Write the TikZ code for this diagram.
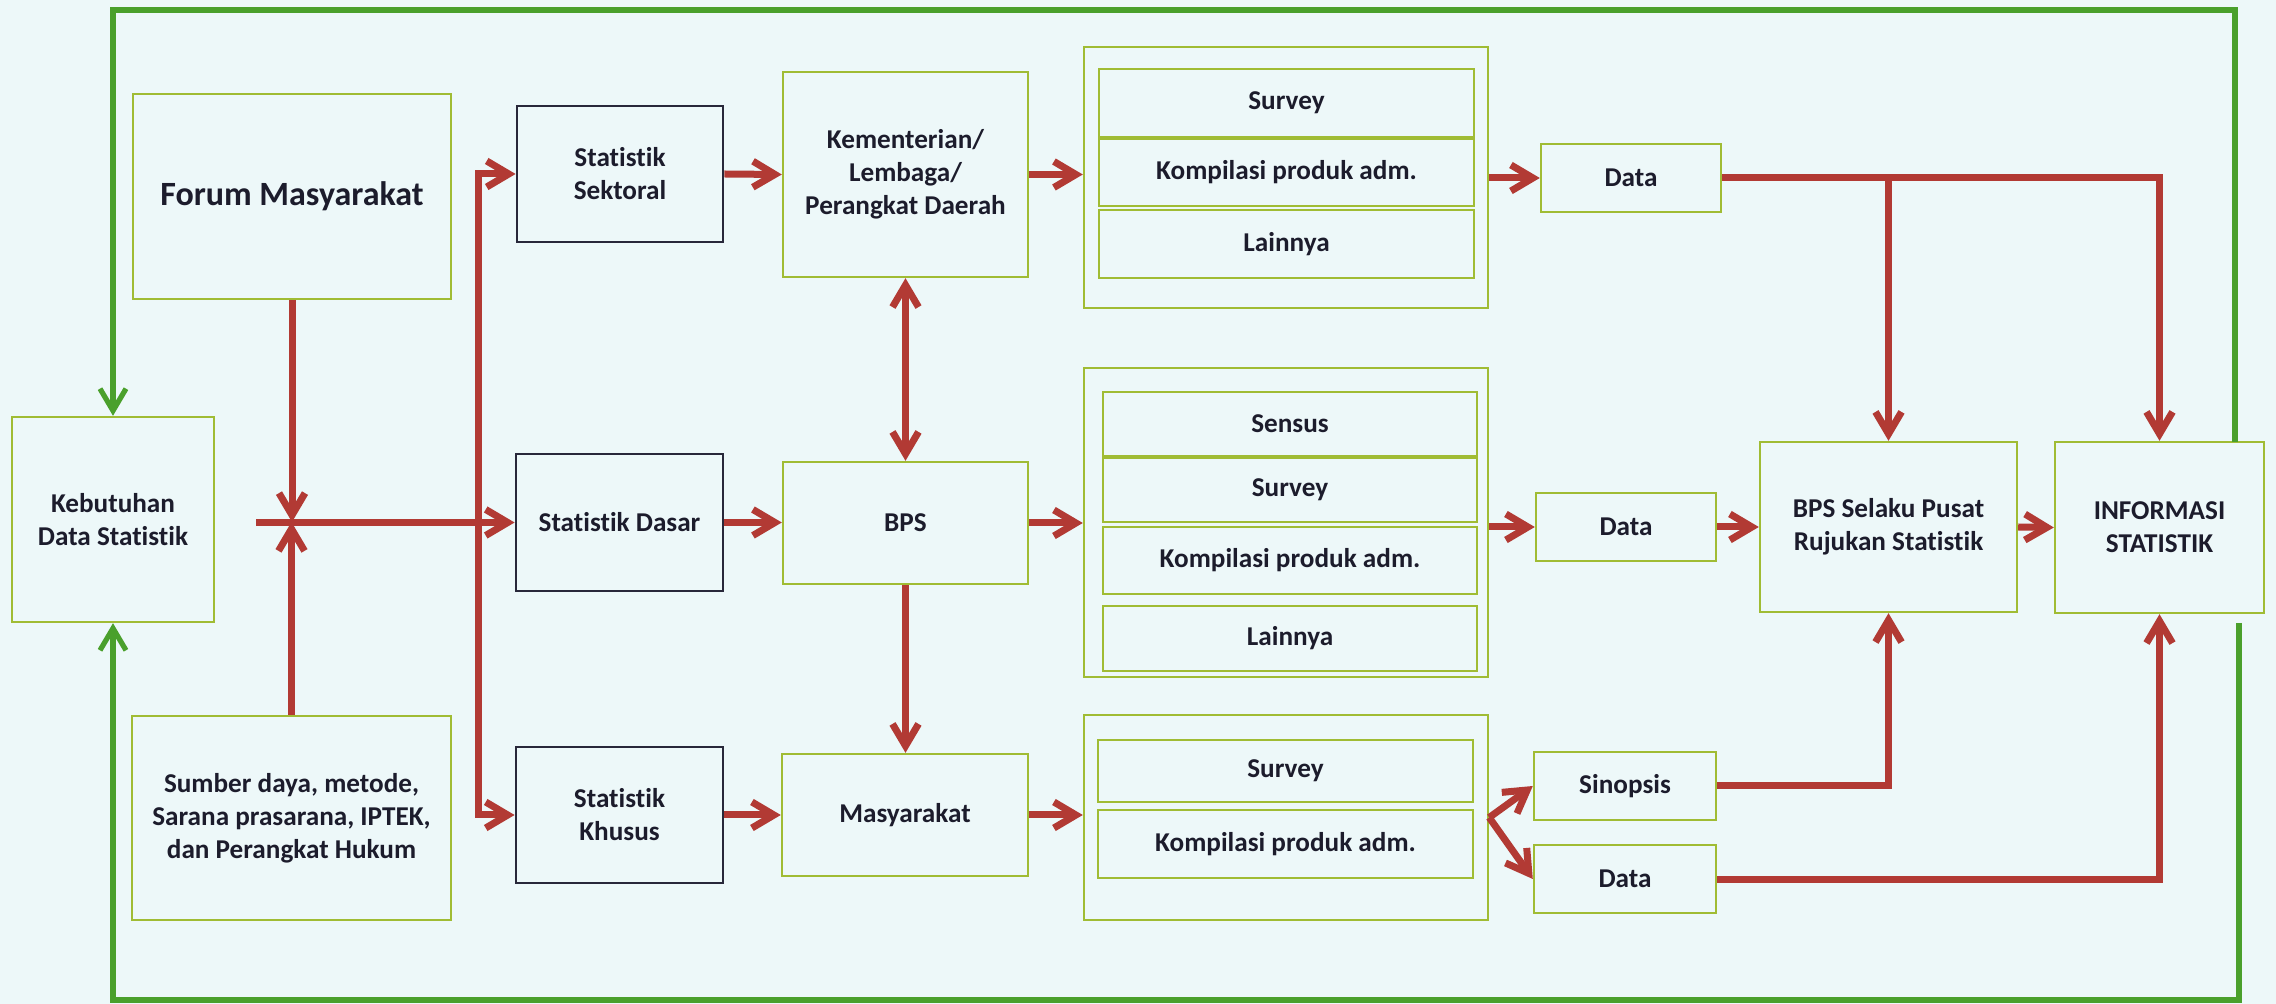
\documentclass[tikz,border=0pt]{standalone}
\usepackage{fontspec}
\setmainfont{Carlito}[Ligatures={NoCommon}]
\usetikzlibrary{arrows.meta}
\definecolor{bgc}{RGB}{237,248,249}
\definecolor{boxc}{RGB}{160,188,52}
\definecolor{darkc}{RGB}{40,40,58}
\definecolor{redc}{RGB}{178,58,52}
\definecolor{greenc}{RGB}{74,160,44}
\definecolor{txtc}{RGB}{28,28,44}
\newcommand\bx[7]{\node[#6, minimum width={(#4-#2)*0.5pt}, minimum height={(#5-#3)*0.5pt}] (#1) at ({(#2+#4)/2},{(#3+#5)/2}) {#7};}
\begin{document}
\begin{tikzpicture}[x=0.5pt,y=-0.5pt,
 box/.style={draw=boxc, line width=1.2pt, inner sep=2pt, align=center, text=txtc, font=\bfseries\fontsize{13.6}{16.5}\selectfont},
 dbox/.style={box, draw=darkc, line width=1.4pt},
 rl/.style={draw=redc, line width=3.5pt},
 ra/.style={rl, -{Straight Barb[length=11pt,width=13pt]}},
 rab/.style={rl, {Straight Barb[length=11pt,width=13pt]}-{Straight Barb[length=11pt,width=13pt]}},
 ga/.style={draw=greenc, line width=2.6pt, -{Straight Barb[length=11pt,width=13pt]}},
]
\fill[bgc] (0,0) rectangle (2276,1004);
\useasboundingbox (0,0) rectangle (2276,1004);

% left column
\bx{keb}{12}{417}{214}{622}{box}{Kebutuhan\\Data Statistik}
\bx{forum}{133}{94}{451}{299}{box, font=\bfseries\fontsize{17}{20}\selectfont}{Forum Masyarakat}
\bx{sumber}{132}{716}{451}{920}{box}{Sumber daya, metode,\\Sarana prasarana, IPTEK,\\dan Perangkat Hukum}

% statistik boxes
\bx{sektoral}{517}{106}{723}{242}{dbox}{Statistik\\Sektoral}
\bx{dasar}{516}{454}{723}{591}{dbox}{Statistik Dasar}
\bx{khusus}{516}{747}{723}{883}{dbox}{Statistik\\Khusus}

% institutions
\bx{kem}{783}{72}{1028}{277}{box}{Kementerian/\\Lembaga/\\Perangkat Daerah}
\bx{bps}{783}{462}{1028}{584}{box}{BPS}
\bx{masy}{782}{754}{1028}{876}{box}{Masyarakat}

% groups
\bx{o1}{1084}{47}{1488}{308}{box}{}
\bx{s1a}{1099}{69}{1474}{137}{box}{Survey}
\bx{s1b}{1099}{139}{1474}{206}{box}{Kompilasi produk adm.}
\bx{s1c}{1099}{210}{1474}{278}{box}{Lainnya}

\bx{o2}{1084}{368}{1488}{677}{box}{}
\bx{s2a}{1103}{392}{1477}{456}{box}{Sensus}
\bx{s2b}{1103}{458}{1477}{522}{box}{Survey}
\bx{s2c}{1103}{527}{1477}{594}{box}{Kompilasi produk adm.}
\bx{s2d}{1103}{606}{1477}{671}{box}{Lainnya}

\bx{o3}{1084}{715}{1488}{920}{box}{}
\bx{s3a}{1098}{740}{1473}{802}{box}{Survey}
\bx{s3b}{1098}{810}{1473}{878}{box}{Kompilasi produk adm.}

% outputs
\bx{d1}{1541}{144}{1721}{212}{box}{Data}
\bx{d2}{1536}{493}{1716}{561}{box}{Data}
\bx{sinopsis}{1534}{752}{1716}{820}{box}{Sinopsis}
\bx{d3}{1534}{845}{1716}{913}{box}{Data}
\bx{bpsp}{1760}{442}{2017}{612}{box}{BPS Selaku Pusat\\Rujukan Statistik}
\bx{info}{2055}{442}{2264}{613}{box}{INFORMASI\\STATISTIK}

% junction on the left
\coordinate (hs) at (256,522);
\coordinate (vx) at (478,0);
\draw[ra] (forum.south) -- (forum.south |- hs);
\draw[ra] (sumber.north) -- (sumber.north |- hs);
\draw[ra] (hs |- dasar.west) -- (dasar.west);
\draw[rab] (sektoral.west) -- (sektoral.west -| vx) -- (khusus.west -| vx) -- (khusus.west);

% rows
\draw[ra] (sektoral.east) -- (kem.west);
\draw[ra] (dasar.east) -- (dasar.east -| bps.west);
\draw[ra] (khusus.east) -- (khusus.east -| masy.west);
\draw[ra] (kem.east) -- (kem.east -| o1.west);
\draw[ra] (bps.east) -- (bps.east -| o2.west);
\draw[ra] (masy.east) -- (masy.east -| o3.west);
\draw[rab] (kem.south) -- (kem.south |- bps.north);
\draw[ra] (bps.south) -- (bps.south |- masy.north);

\draw[ra] (o1.east |- d1.west) -- (d1.west);
\draw[ra] (o2.east |- d2.west) -- (d2.west);
\draw[ra] (o3.east) -- (sinopsis.west);
\draw[ra] (o3.east) -- (d3.west);

\draw[ra] (d1.east) -- (d1.east -| info.north) -- (info.north);
\draw[ra] (d1.east -| bpsp.north) -- (bpsp.north);
\draw[ra] (d2.east) -- (d2.east -| bpsp.west);
\draw[ra] (bpsp.east) -- (info.west);
\draw[ra] (sinopsis.east) -| (bpsp.south);
\draw[ra] (d3.east) -| (info.south);

% green feedback loop
\coordinate (g1) at (2235,442);
\coordinate (g0) at (2235,10);
\coordinate (g2) at (2239,623);
\coordinate (g3) at (2239,1000);
\draw[ga] (g1) -- (g0) -| (keb.north);
\draw[ga] (g2) -- (g3) -| (keb.south);
\end{tikzpicture}
\end{document}
